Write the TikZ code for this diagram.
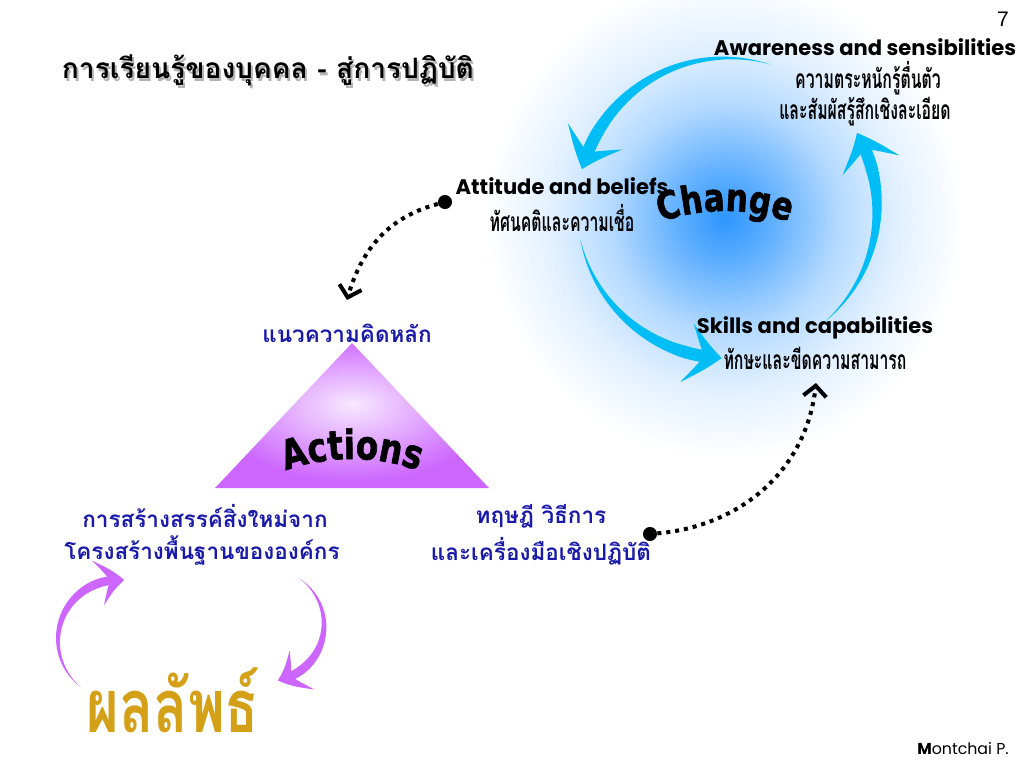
\documentclass[tikz,border=0pt]{standalone}
\usepackage{fontspec}
\setmainfont{Liberation Sans}
\newfontfamily\engfont{Poppins}
\newfontfamily\thaifont[Script=Thai]{Loma}
\newfontfamily\thaicond[Script=Thai,FakeStretch=0.6]{Loma}
\newfontfamily\resultfont[Script=Thai,FakeStretch=0.76]{Loma}
\newfontfamily\heavyfont[FakeStretch=0.8,FakeBold=1.5]{DejaVu Sans}
\usetikzlibrary{
positioning,%
arrows.meta,%
bending,%
decorations.text
}
\definecolor{cyanarr}{RGB}{0,190,245}
\definecolor{violetarr}{RGB}{204,102,255}
\definecolor{thaiblue}{RGB}{25,25,170}
\definecolor{goldtxt}{RGB}{212,160,23}
\definecolor{glowblue}{RGB}{45,150,255}
\pgfdeclareradialshading{glow}{\pgfpoint{0bp}{0bp}}{%
  color(0bp)=(glowblue); color(5bp)=(glowblue!75!white);
  color(12bp)=(glowblue!35!white); color(18bp)=(glowblue!14!white);
  color(23bp)=(glowblue!4!white); color(25bp)=(white); color(50bp)=(white)}
\pgfdeclareradialshading{lilac}{\pgfpoint{0bp}{4bp}}{%
  color(0bp)=(violetarr!15!white); color(12bp)=(violetarr!55!white);
  color(25bp)=(violetarr); color(50bp)=(violetarr)}
\tikzset{
    headline/.style={font=\thaifont\bfseries\fontsize{16}{18}\selectfont, inner sep=0pt},
    headshade/.style={headline, text=black!30},
    eng/.style={font=\engfont\bfseries\fontsize{12}{14}\selectfont, inner sep=0pt},
    thsub/.style={font=\thaicond\bfseries\fontsize{15}{17}\selectfont, inner sep=0pt},
    thblue/.style={font=\thaifont\bfseries\fontsize{12.8}{15}\selectfont, text=thaiblue, inner sep=0pt},
    result/.style={font=\resultfont\bfseries\fontsize{42}{44}\selectfont, text=goldtxt, inner sep=0pt},
    blob/.style={circle, fill=black, inner sep=0pt, minimum size=8pt},
    dotarr/.style={line width=2.3pt, dash pattern=on 2.3pt off 2.8pt, -{Straight Barb[length=6pt, width=13pt]}},
    cycarr/.style={cyanarr, line width=7pt, -{Stealth[length=20pt, width=34pt, inset=10pt, bend]}},
    loopy/.style={violetarr, line width=5pt, -{Stealth[length=15pt, width=26pt, inset=7pt, bend]}}
}
% tapered arc arrow: style, centre, radius, half width, tail, neck, tip
\newcommand{\swoosh}[7]{%
  \begin{scope}[shift={(#2)}]
    \fill[#1] plot[domain=#5:#6, samples=30]
      ({(#3+#4*(\x-(#5))/((#6)-(#5)))*cos(\x)}, {(#3+#4*(\x-(#5))/((#6)-(#5)))*sin(\x)})
      -- plot[domain=#6:#5, samples=30]
      ({(#3-#4*(\x-(#5))/((#6)-(#5)))*cos(\x)}, {(#3-#4*(\x-(#5))/((#6)-(#5)))*sin(\x)})
      -- cycle;
    \draw[#1] (#6:#3) arc[start angle=#6, end angle=#7, radius=#3];
  \end{scope}}

\begin{document}
\begin{tikzpicture}[x=0.02cm, y=0.02cm]
    \useasboundingbox (0,0) rectangle (1024,-768);
    % ---- glow and cycle
    \coordinate (glowc) at (725,-218);
    \shade[shading=glow] (glowc) circle[radius=240];
    \coordinate (hub) at (727,-208);
    \swoosh{cycarr}{hub}{150}{6}{73}{149}{165}
    \swoosh{cycarr}{hub}{150}{6}{192}{252}{268}
    \swoosh{cycarr}{hub}{150}{6}{-49}{14}{30}
    \path[decorate, decoration={text along path, text align=center,
        text={|\heavyfont\bfseries\fontsize{22}{22}\selectfont|Change}}]
        (725,-406) ++(120:195) arc[start angle=120, end angle=60, radius=195];
    % ---- texts on the right
    \node (pgnum) at (1003,-19) {\fontsize{12}{14}\selectfont 7};
    \node[eng] (aware) at (865,-47) {Awareness and sensibilities};
    \node[thsub] (aware1) at (868,-78) {ความตระหนักรู้ตื่นตัว};
    \node[thsub] (aware2) at (865,-112) {และสัมผัสรู้สึกเชิงละเอียด};
    \node[eng] (attitude) at (562,-186) {Attitude and beliefs};
    \node[thsub] (attitude1) at (562,-218) {ทัศนคติและความเชื่อ};
    \node[eng] (skills) at (815,-328) {Skills and capabilities};
    \node[thsub] (skills1) at (815,-358) {ทักษะและขีดความสามารถ};
    % ---- title
    \node[headshade] (titleshade) at (270,-73) {การเรียนรู้ของบุคคล - สู่การปฏิบัติ};
    \node[headline] (title) at (268,-70) {การเรียนรู้ของบุคคล - สู่การปฏิบัติ};
    % ---- triangle
    \coordinate (apex) at (352,-343);
    \coordinate (bl) at (215,-488);
    \coordinate (br) at (489,-488);
    \shade[shading=lilac] (apex) -- (br) -- (bl) -- cycle;
    \path[decorate, decoration={text along path, text align=center,
        text={|\heavyfont\bfseries\fontsize{23}{23}\selectfont|Actions}}]
        (352,-654) ++(120:195) arc[start angle=120, end angle=60, radius=195];
    \node[thblue] (concept) at (347,-333) {แนวความคิดหลัก};
    \node[thblue] (create1) at (205,-516) {การสร้างสรรค์สิ่งใหม่จาก};
    \node[thblue] (create2) at (202,-551) {โครงสร้างพื้นฐานขององค์กร};
    \node[thblue] (tools1) at (541,-516) {ทฤษฎี วิธีการ};
    \node[thblue] (tools2) at (541,-551) {และเครื่องมือเชิงปฏิบัติ};
    % ---- dotted links
    \node[blob] (attdot) at (445,-202) {};
    \coordinate (concepttip) at (347,-300);
    \draw[dotarr] (attdot) to[out=195, in=75] (concepttip);
    \node[blob] (toolsdot) at (650,-534) {};
    \coordinate (skillstip) at (816,-383);
    \draw[dotarr] (toolsdot) to[out=5, in=-95] (skillstip);
    % ---- result loop
    \coordinate (loopl) at (118,-640);
    \coordinate (loopr) at (268,-625);
    \swoosh{loopy}{loopl}{60}{4.4}{232}{116}{84}
    \swoosh{loopy}{loopr}{56}{4.4}{56}{-48}{-80}
    \node[result] (outcome) at (173,-700) {ผลลัพธ์};
    % ----
    \node (sign) at (963,-749) {\engfont\fontsize{9}{11}\selectfont{\bfseries M}ontchai P.};
\end{tikzpicture}
\end{document}
